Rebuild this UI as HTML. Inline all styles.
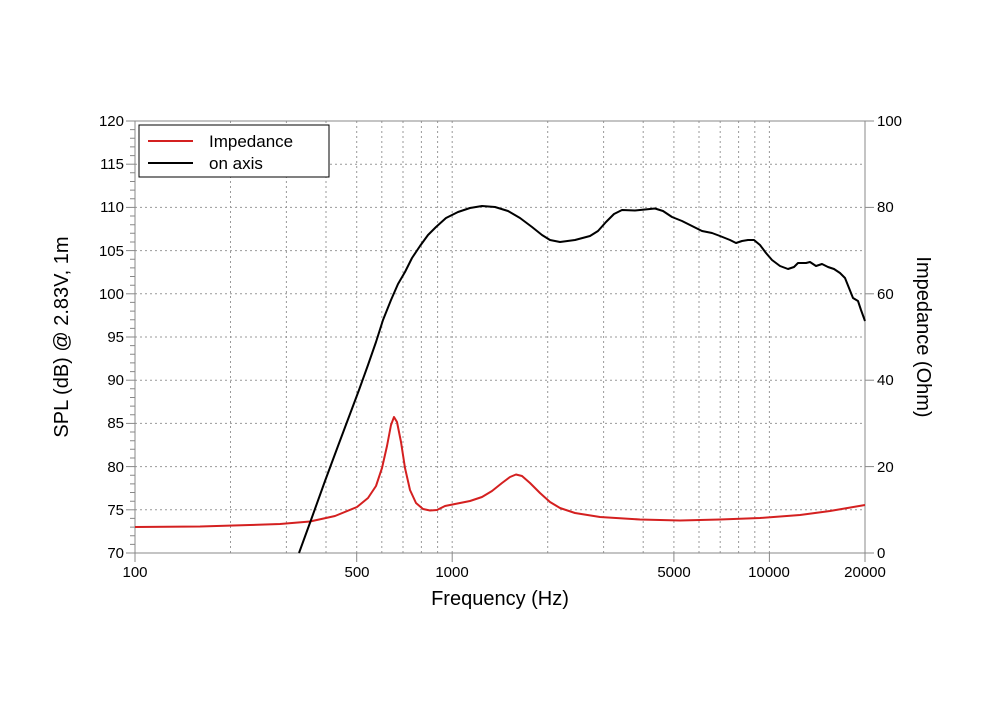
<!DOCTYPE html>
<html><head><meta charset="utf-8"><style>
html,body{margin:0;padding:0;background:#fff;}
svg{display:block;font-family:"Liberation Sans",sans-serif;}
</style></head><body>
<svg width="1000" height="718" viewBox="0 0 1000 718" xmlns="http://www.w3.org/2000/svg">
<g stroke="#999" stroke-width="1" stroke-dasharray="2,3" fill="none">
<line x1="135" x2="865" y1="164.2" y2="164.2"/><line x1="135" x2="865" y1="207.4" y2="207.4"/>
<line x1="135" x2="865" y1="250.6" y2="250.6"/><line x1="135" x2="865" y1="293.8" y2="293.8"/>
<line x1="135" x2="865" y1="337" y2="337"/><line x1="135" x2="865" y1="380.2" y2="380.2"/>
<line x1="135" x2="865" y1="423.4" y2="423.4"/><line x1="135" x2="865" y1="466.6" y2="466.6"/>
<line x1="135" x2="865" y1="509.8" y2="509.8"/>
<line x1="230.5" x2="230.5" y1="121" y2="553"/><line x1="286.4" x2="286.4" y1="121" y2="553"/>
<line x1="326" x2="326" y1="121" y2="553"/><line x1="356.7" x2="356.7" y1="121" y2="553"/>
<line x1="381.8" x2="381.8" y1="121" y2="553"/><line x1="403" x2="403" y1="121" y2="553"/>
<line x1="421.4" x2="421.4" y1="121" y2="553"/><line x1="437.6" x2="437.6" y1="121" y2="553"/>
<line x1="452.2" x2="452.2" y1="121" y2="553"/>
<line x1="547.7" x2="547.7" y1="121" y2="553"/><line x1="603.6" x2="603.6" y1="121" y2="553"/>
<line x1="643.2" x2="643.2" y1="121" y2="553"/><line x1="673.9" x2="673.9" y1="121" y2="553"/>
<line x1="699" x2="699" y1="121" y2="553"/><line x1="720.2" x2="720.2" y1="121" y2="553"/>
<line x1="738.6" x2="738.6" y1="121" y2="553"/><line x1="754.8" x2="754.8" y1="121" y2="553"/>
<line x1="769.4" x2="769.4" y1="121" y2="553"/>
</g>
<rect x="135" y="121" width="730" height="432" fill="none" stroke="#888" stroke-width="1"/>
<g stroke="#888" stroke-width="1">
<line x1="126" x2="135" y1="121" y2="121"/><line x1="126" x2="135" y1="164.2" y2="164.2"/>
<line x1="126" x2="135" y1="207.4" y2="207.4"/><line x1="126" x2="135" y1="250.6" y2="250.6"/>
<line x1="126" x2="135" y1="293.8" y2="293.8"/><line x1="126" x2="135" y1="337" y2="337"/>
<line x1="126" x2="135" y1="380.2" y2="380.2"/><line x1="126" x2="135" y1="423.4" y2="423.4"/>
<line x1="126" x2="135" y1="466.6" y2="466.6"/><line x1="126" x2="135" y1="509.8" y2="509.8"/>
<line x1="126" x2="135" y1="553" y2="553"/>
<line x1="865" x2="874" y1="121" y2="121"/><line x1="865" x2="874" y1="207.4" y2="207.4"/>
<line x1="865" x2="874" y1="293.8" y2="293.8"/><line x1="865" x2="874" y1="380.2" y2="380.2"/>
<line x1="865" x2="874" y1="466.6" y2="466.6"/><line x1="865" x2="874" y1="553" y2="553"/>
<line x1="135" x2="135" y1="553" y2="562"/><line x1="356.7" x2="356.7" y1="553" y2="562"/>
<line x1="452.2" x2="452.2" y1="553" y2="562"/><line x1="673.9" x2="673.9" y1="553" y2="562"/>
<line x1="769.4" x2="769.4" y1="553" y2="562"/><line x1="865" x2="865" y1="553" y2="562"/>
</g>
<path stroke="#888" stroke-width="1" d="M130,129.6h5M130,138.3h5M130,146.9h5M130,155.6h5M130,172.8h5M130,181.5h5M130,190.1h5M130,198.8h5M130,216h5M130,224.7h5M130,233.3h5M130,242h5M130,259.2h5M130,267.9h5M130,276.5h5M130,285.2h5M130,302.4h5M130,311.1h5M130,319.7h5M130,328.4h5M130,345.6h5M130,354.3h5M130,362.9h5M130,371.6h5M130,388.8h5M130,397.5h5M130,406.1h5M130,414.8h5M130,432h5M130,440.7h5M130,449.3h5M130,458h5M130,475.2h5M130,483.9h5M130,492.5h5M130,501.2h5M130,518.4h5M130,527.1h5M130,535.7h5M130,544.4h5"/>
<g font-size="15" fill="#000" text-anchor="end">
<text x="124" y="126">120</text><text x="124" y="169">115</text><text x="124" y="212">110</text>
<text x="124" y="256">105</text><text x="124" y="299">100</text><text x="124" y="342">95</text>
<text x="124" y="385">90</text><text x="124" y="428">85</text><text x="124" y="472">80</text>
<text x="124" y="515">75</text><text x="124" y="558">70</text>
</g>
<g font-size="15" fill="#000" text-anchor="start">
<text x="877" y="126">100</text><text x="877" y="212">80</text><text x="877" y="299">60</text>
<text x="877" y="385">40</text><text x="877" y="472">20</text><text x="877" y="558">0</text>
</g>
<g font-size="15" fill="#000" text-anchor="middle">
<text x="135" y="577">100</text><text x="357" y="577">500</text><text x="452" y="577">1000</text>
<text x="674" y="577">5000</text><text x="769" y="577">10000</text><text x="865" y="577">20000</text>
</g>
<text x="500" y="605" font-size="20" text-anchor="middle">Frequency (Hz)</text>
<text transform="translate(68,337) rotate(-90)" font-size="20" text-anchor="middle">SPL (dB) @ 2.83V, 1m</text>
<text transform="translate(917,337) rotate(90)" font-size="20" text-anchor="middle">Impedance (Ohm)</text>
<path fill="none" stroke="#d42020" stroke-width="2" stroke-linejoin="round" d="M135,527 L200,526.5 L250,525 L280,524 L310,521.5 L335,516 L357,507 L368,498 L376,486 L382,468 L387,446 L391,425 L394,417 L397,422 L401,442 L405,468 L410,490 L416,503 L423,509 L430,510.5 L437,510 L445,506 L455,504 L470,501 L482,497 L492,491 L502,483 L510,477 L516,474.5 L522,476 L530,483 L540,493 L550,502 L560,508 L575,513 L600,517 L640,519.5 L680,520.5 L720,519.5 L760,518 L800,515 L830,511 L865,505"/>
<path fill="none" stroke="#000" stroke-width="2" stroke-linejoin="round" d="M299,553 L311,520 L325,481 L338,446 L350,414 L359,390 L368,365 L376,342 L383,320 L391,300 L398,284 L405,272 L412,258 L420,246 L428,235 L436,227 L446,218 L458,212 L470,208 L482,206 L495,207 L508,211 L520,218 L532,227 L542,235 L550,240 L560,242 L575,240 L590,236 L598,231 L606,222 L614,214 L622,210 L635,210.5 L645,209.5 L655,208.5 L663,211 L672,217 L682,221 L692,226 L702,231 L712,233 L720,236 L730,240 L736,243 L742,241 L748,240 L754,240 L760,245 L766,253 L772,260 L780,266 L788,269 L794,267 L798,263 L806,263 L810,262 L816,266 L822,264 L828,267 L834,269 L840,273 L845,278 L849,288 L853,298 L858,301 L861,310 L865,321"/>
<rect x="139" y="125" width="190" height="52" fill="#fff" stroke="#000" stroke-width="1"/>
<line x1="148" x2="193" y1="141" y2="141" stroke="#d42020" stroke-width="2"/>
<line x1="148" x2="193" y1="163" y2="163" stroke="#000" stroke-width="2"/>
<text x="209" y="147" font-size="17">Impedance</text>
<text x="209" y="169" font-size="17">on axis</text>
</svg>
</body></html>
